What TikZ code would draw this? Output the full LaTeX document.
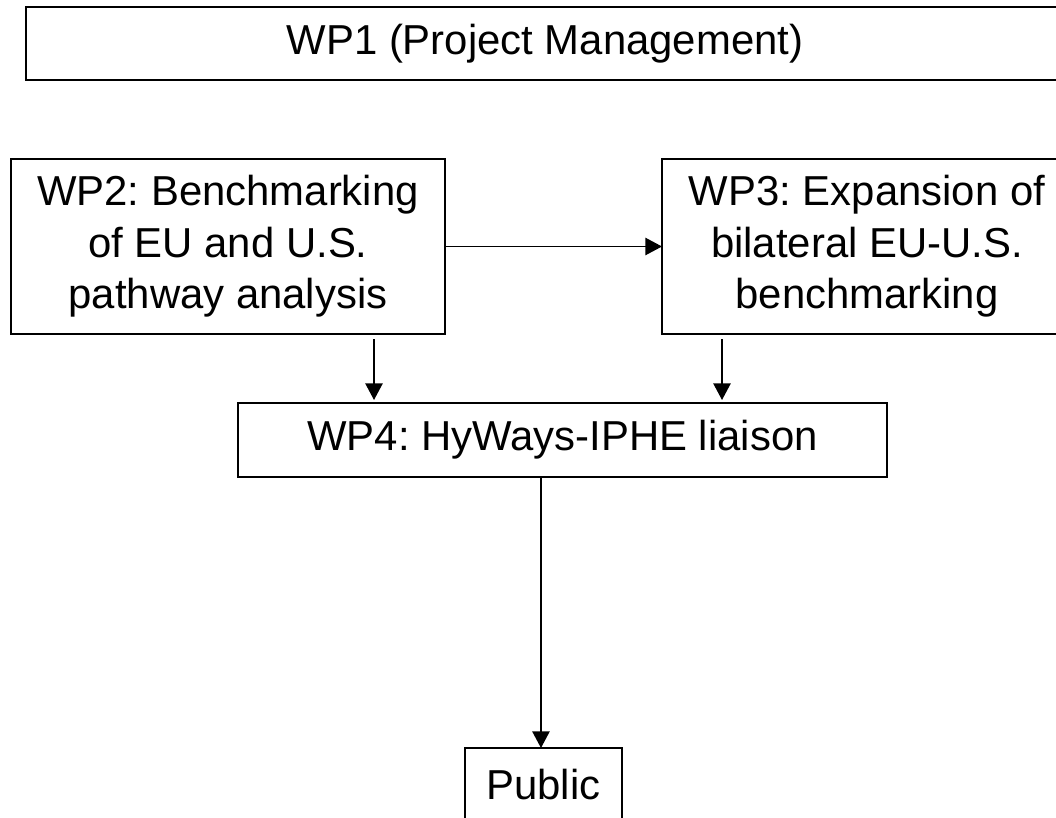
\documentclass[tikz,border=0pt]{standalone}
\usepackage{fontspec}
\setmainfont{Liberation Sans}
\usetikzlibrary{arrows.meta}
\frenchspacing
\begin{document}
\begin{tikzpicture}[x=0.75pt,y=-0.75pt,
  box/.style={draw=black,line width=1.2pt,inner sep=0pt,outer sep=0pt,align=center,
    font=\fontsize{31.4}{38.6}\selectfont},
  arr/.style={line width=1.2pt,-{Triangle[length=12.5pt,width=13pt]}}]
\useasboundingbox (0,0) rectangle (1056,817);
\clip (0,0) rectangle (1056,817);
\node[box,minimum width=778.5pt,minimum height=54.75pt] (WP1) at (545,43.5) {WP1 (Project Management)};
\node[box,minimum width=325.5pt,minimum height=131.25pt] (WP2) at (228,246.5) {WP2: Benchmarking\\of EU and U.S.\\pathway analysis};
\node[box,minimum width=307.5pt,minimum height=131.25pt] (WP3) at (867,246.5) {WP3: Expansion of\\bilateral EU-U.S.\\benchmarking};
\node[box,minimum width=486.75pt,minimum height=55.5pt] (WP4) at (562.5,440) {WP4: HyWays-IPHE liaison};
\node[box,minimum width=117.75pt,minimum height=55.5pt] (Pub) at (543.5,785) {Public};
\draw[arr] (WP2.east) -- (WP3.west);
\draw[arr,shorten >=2.25pt] ([xshift=109.5pt,yshift=-3.75pt]WP2.south) -- ([xshift=109.5pt]WP2.south |- WP4.north);
\draw[arr,shorten >=2.25pt] ([xshift=-108.75pt,yshift=-3.75pt]WP3.south) -- ([xshift=-108.75pt]WP3.south |- WP4.north);
\draw[arr] ([xshift=-1.9pt]Pub.north |- WP4.south) -- ([xshift=-1.9pt]Pub.north);
\end{tikzpicture}
\end{document}
